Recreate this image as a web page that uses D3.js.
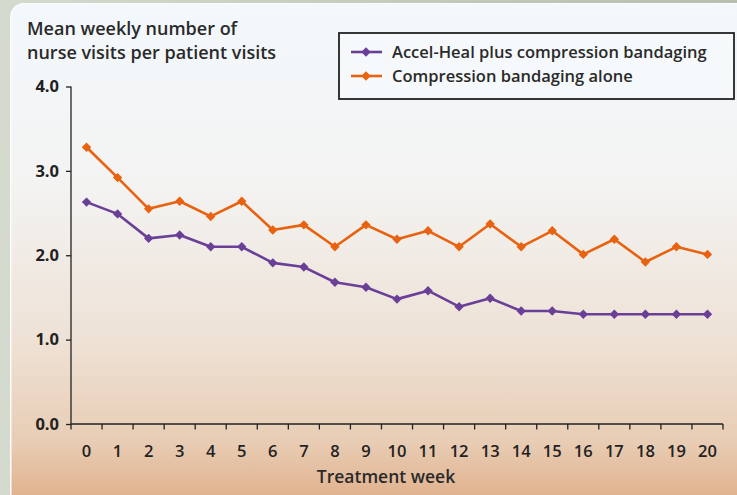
<!DOCTYPE html>
<html><head><meta charset="utf-8">
<script src="https://cdn.jsdelivr.net/npm/d3@7"></script>
<style>
html,body{margin:0;padding:0;background:#c4cbbd;overflow:hidden;}
svg{display:block;font-family:"Open Sans",sans-serif;}
</style></head>
<body>
<script>
const weeks = d3.range(0, 21);
const weekLabels = weeks.map(String);
const seriesNames = ["Accel-Heal plus compression bandaging", "Compression bandaging alone"];
const accelHeal = [2.63,2.49,2.20,2.24,2.10,2.10,1.91,1.86,1.68,1.62,1.48,1.58,1.39,1.49,1.34,1.34,1.30,1.30,1.30,1.30,1.30];
const bandagingAlone = [3.28,2.92,2.55,2.64,2.46,2.64,2.30,2.36,2.10,2.36,2.19,2.29,2.10,2.37,2.10,2.29,2.01,2.19,1.92,2.10,2.01];
const yTicks = [0, 1, 2, 3, 4];
const colors = ["#6a3f98", "#e8620f"];

const W = 737, H = 495;
const svg = d3.select("body").append("svg").attr("width", W).attr("height", H);
const defs = svg.append("defs");
const outer = defs.append("linearGradient").attr("id","outer").attr("x1",0).attr("x2",1).attr("y1",0).attr("y2",0);
outer.append("stop").attr("offset","0%").attr("stop-color","#d4dacd");
outer.append("stop").attr("offset","100%").attr("stop-color","#b7bfae");
svg.append("rect").attr("width",W).attr("height",H).attr("fill","url(#outer)");
const grad = defs.append("linearGradient").attr("id","bg").attr("x1",0).attr("x2",0).attr("y1",0).attr("y2",1);
[["0%","#f3f8fc"],["35%","#f3f3f2"],["65%","#eee2d6"],["85%","#e8cdb4"],["100%","#dea77f"]].forEach(([o,c])=>grad.append("stop").attr("offset",o).attr("stop-color",c));
svg.append("rect").attr("x",10).attr("y",3).attr("width",W+20).attr("height",H+20).attr("rx",14)
  .attr("fill","#fbfcfb");
svg.append("rect").attr("x",11.5).attr("y",4).attr("width",W+20).attr("height",H+20).attr("rx",13)
  .attr("fill","url(#bg)");

const x = d3.scaleBand().domain(weeks).range([71, 723]);
const y = d3.scaleLinear().domain([0, 4]).range([424, 86.5]);

// title
const title = svg.append("text").attr("x", 27).attr("fill", "#2a2a2a").style("font-size", "18px").attr("font-weight", 600);
title.append("tspan").attr("x", 27).attr("y", 35).text("Mean weekly number of");
title.append("tspan").attr("x", 27).attr("y", 59).text("nurse visits per patient visits");

// y axis
const yAxis = svg.append("g").attr("transform", "translate(71,0)")
  .call(d3.axisLeft(y).tickValues(yTicks).tickFormat(d3.format(".1f")).tickSize(5).tickPadding(7));
yAxis.attr("font-size", null).attr("font-family", null);
yAxis.selectAll("path,line").attr("stroke", "#222").attr("stroke-width", 1.3);
yAxis.select(".domain").attr("d", "M0," + y(4) + "V" + y(0));
yAxis.selectAll("text").style("font-size", "16.5px").attr("font-weight", 700).attr("fill", "#222");

// x axis
const xAxis = svg.append("g").attr("transform", "translate(0,424)")
  .call(d3.axisBottom(x).tickFormat((d,i)=>weekLabels[i]).tickSize(0).tickPadding(21));
xAxis.attr("font-size", null).attr("font-family", null);
xAxis.select(".domain").attr("d", "M71,0H723").attr("stroke", "#222").attr("stroke-width", 1.3);
xAxis.selectAll("text").style("font-size", "16.5px").attr("font-weight", 600).attr("fill", "#222");
const edges = weeks.map(d => x(d)).concat([x.range()[1]]);
const edgeG = svg.append("g").attr("transform", "translate(0,424)");
edgeG.selectAll("line").data(edges).enter().append("line")
  .attr("x1", d=>d).attr("x2", d=>d).attr("y1", 0).attr("y2", 5.5).attr("stroke", "#222").attr("stroke-width", 1.3);
svg.append("text").attr("x", 386).attr("y", 483).attr("text-anchor", "middle")
  .style("font-size", "17.5px").attr("font-weight", 600).attr("fill", "#2a2a2a").text("Treatment week");

// lines
const cx = d => x(d) + x.bandwidth() / 2;
const line = d3.line().x((v,i) => cx(weeks[i])).y(v => y(v));
const diamond = d3.symbol().type(d3.symbolSquare).size(44);
[accelHeal, bandagingAlone].forEach((vals, si) => {
  svg.append("path").datum(vals).attr("d", line).attr("fill", "none")
    .attr("stroke", colors[si]).attr("stroke-width", 2.6).attr("stroke-linejoin","round");
  svg.append("g").selectAll("path").data(vals).enter().append("path")
    .attr("d", diamond).attr("transform", (v,i) => `translate(${cx(weeks[i])},${y(v)}) rotate(45)`)
    .attr("fill", colors[si]);
});

// legend
const lg = svg.append("g");
lg.append("rect").attr("x", 339).attr("y", 33).attr("width", 395).attr("height", 66)
  .attr("fill", "#f6f9fb").attr("stroke", "#222").attr("stroke-width", 1.8);
seriesNames.forEach((name, i) => {
  const yy = 52 + i * 24;
  lg.append("line").attr("x1", 351).attr("x2", 382).attr("y1", yy).attr("y2", yy)
    .attr("stroke", colors[i]).attr("stroke-width", 2.6);
  lg.append("path").attr("d", diamond).attr("transform", `translate(366,${yy}) rotate(45)`).attr("fill", colors[i]);
  lg.append("text").attr("x", 392).attr("y", yy + 6).style("font-size", "16.5px").attr("font-weight", 600)
    .attr("fill", "#2a2a2a").text(name);
});
</script>
</body></html>
